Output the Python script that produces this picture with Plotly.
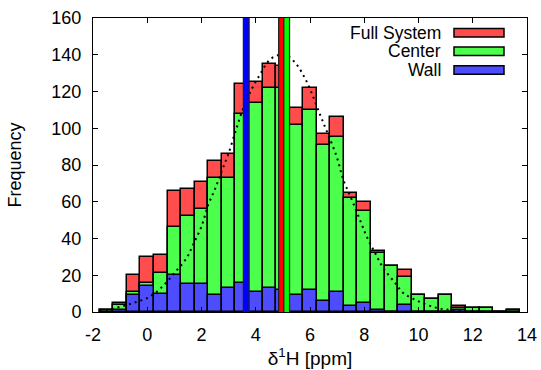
import plotly.graph_objects as go

# ---- data ----
bin_centers = [-1.5, -1.0, -0.5, 0.0, 0.5, 1.0, 1.5, 2.0, 2.5, 3.0, 3.5, 4.0, 4.5, 5.0, 5.5, 6.0,
               6.5, 7.0, 7.5, 8.0, 8.5, 9.0, 9.5, 10.0, 10.5, 11.0, 11.5, 12.0, 12.5, 13.0, 13.5]
full_system = [1, 5, 20, 30, 31, 66, 67, 71, 82, 86, 124, 125, 135, 134, 111, 122,
               97, 106, 65, 60, 33, 25, 23, 9, 7, 9, 3, 2, 2, 0, 1]
center = [1, 4, 11, 16, 21, 46, 52, 56, 73, 73, 108, 114, 122, 122, 102, 110,
          91, 95, 62, 55, 32, 25, 19, 9, 7, 9, 2, 2, 2, 0, 1]
wall = [0, 1, 9, 14, 10, 20, 15, 15, 9, 13, 16, 11, 13, 12, 9, 12,
        6, 11, 3, 5, 1, 0, 4, 0, 0, 0, 1, 0, 0, 0, 0]
bin_width = 0.5

fit_x = [-1.75, -1.0, -0.5, 0.0, 0.5, 1.0, 1.45, 1.69, 2.0, 2.25, 2.49, 2.74, 2.98, 3.29, 3.54,
         3.78, 4.15, 4.52, 4.89, 5.2, 5.51, 5.81, 6.06, 6.37, 6.62, 6.98, 7.23, 7.54, 7.84,
         8.09, 8.4, 8.7, 9.14, 9.44, 10.0, 10.61, 11.05, 11.8, 12.5, 13.5]
fit_y = [0.3, 2.8, 5.0, 7.6, 13.0, 21.2, 29.4, 36.6, 46.6, 58.4, 66.6, 76.5, 85.6, 100.0, 111.0,
         119.2, 129.1, 137.3, 140.0, 139.1, 134.6, 127.3, 119.2, 107.4, 98.3, 84.7, 72.0, 61.1,
         50.2, 41.1, 32.1, 23.9, 15.8, 10.3, 5.8, 2.5, 1.3, 0.4, 0.1, 0.0]

mean_names = ["Wall", "Full System", "Center"]
mean_values = [3.65, 4.95, 5.14]
mean_colors = ["#0000ff", "#ff0000", "#00ff00"]

series_names = ["Full System", "Center", "Wall"]
series_colors = ["#ff4d4d", "#4dff4d", "#4d4dff"]

x_ticks = [-2, 0, 2, 4, 6, 8, 10, 12, 14]
x_tick_labels = ["-2", "0", "2", "4", "6", "8", "10", "12", "14"]
y_ticks = [0, 20, 40, 60, 80, 100, 120, 140, 160]

FONT = "Liberation Sans, Arial, sans-serif"

fig = go.Figure()
for name, vals, col in zip(series_names, [full_system, center, wall], series_colors):
    fig.add_trace(go.Bar(x=bin_centers, y=vals, width=bin_width, name=name,
                         marker=dict(color=col, line=dict(color="black", width=1.5)),
                         showlegend=False))

fig.add_trace(go.Scatter(x=fit_x, y=fit_y, mode="lines", line_shape="spline",
                         line=dict(color="black", width=2, dash="2px,4px"), showlegend=False))

for v, col in zip(mean_values, mean_colors):
    fig.add_trace(go.Scatter(x=[v, v], y=[0, 160], mode="lines",
                             line=dict(color="#202020", width=7), showlegend=False))
    fig.add_trace(go.Scatter(x=[v, v], y=[0, 160], mode="lines",
                             line=dict(color=col, width=4.5), showlegend=False))

# manual legend (text on left, swatch on right, as in the reference)
W, H = 541, 370
L, R, T, B = 93, 14, 18, 58
pw, ph = W - L - R, H - T - B
def px(xp):
    return (xp - L) / pw
def py(yp):
    return (H - B - yp) / ph
row_y = [32.8, 51.3, 70.0]
for name, col, yy in zip(series_names, series_colors, row_y):
    fig.add_annotation(x=px(442), y=py(yy), xref="paper", yref="paper", text=name,
                       showarrow=False, xanchor="right", yanchor="middle", borderpad=0,
                       font=dict(family=FONT, size=17.5, color="black"))
    fig.add_shape(type="rect", xref="paper", yref="paper",
                  x0=px(454), x1=px(504), y0=py(yy + 4.3), y1=py(yy - 4.3),
                  fillcolor=col, line=dict(color="black", width=1.5))

fig.update_layout(
    width=W, height=H, margin=dict(l=L, r=R, t=T, b=B, autoexpand=False),
    barmode="overlay", bargap=0,
    plot_bgcolor="white", paper_bgcolor="white",
    font=dict(family=FONT, size=18, color="black"),
    xaxis=dict(range=[-2, 14], tickvals=x_ticks, ticktext=x_tick_labels, ticks="inside",
               ticklen=5, tickwidth=1, automargin=False,
               tickcolor="black", showline=True, linecolor="black", linewidth=1, mirror="allticks",
               showgrid=False, zeroline=False, ticklabelstandoff=6,
               title=dict(text="δ<sup>1</sup>H [ppm]", font=dict(size=19), standoff=8)),
    yaxis=dict(range=[0, 160], tickvals=y_ticks, ticks="inside", ticklen=5, tickwidth=1,
               automargin=False,
               tickcolor="black", showline=True, linecolor="black", linewidth=1, mirror="allticks",
               showgrid=False, zeroline=False, ticklabelstandoff=7,
               title=dict(text="Frequency", font=dict(size=18), standoff=25)),
)

fig.write_html("out.html")
